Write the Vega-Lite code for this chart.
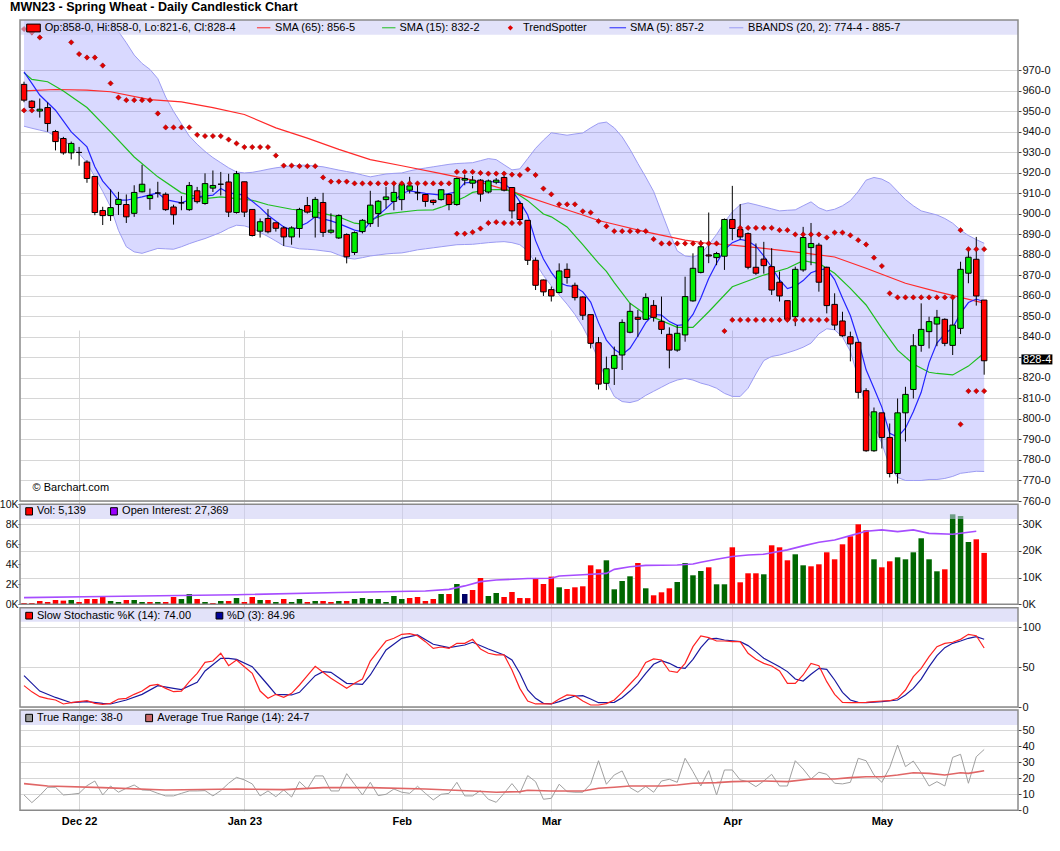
{
  "$schema": "https://vega.github.io/schema/vega-lite/v6.json",
  "autosize": "none",
  "width": 998,
  "height": 791,
  "padding": {"left": 20, "top": 20, "right": 42, "bottom": 40},
  "background": "white",
  "title": {"text": "MWN23 - Spring Wheat - Daily Candlestick Chart", "anchor": "start", "frame": "group", "dx": -10, "dy": 11, "offset": 7, "baseline": "alphabetic", "fontSize": 12.5, "fontWeight": "bold", "color": "#000000"},
  "config": {"font": "Liberation Sans", "view": {"stroke": null}, "scale": {"continuousPadding": 0}},
  "datasets": {
    "candles": [
      {"i":0,"o":963.2,"h":964.5,"lo":954.5,"c":955.5,"v":133,"vd":"d"},
      {"i":1,"o":955.0,"h":955.5,"lo":951.0,"c":951.9,"v":133,"vd":"d"},
      {"i":2,"o":950.2,"h":956.3,"lo":947.0,"c":951.1,"v":333,"vd":"d"},
      {"i":3,"o":951.9,"h":954.4,"lo":940.1,"c":944.1,"v":233,"vd":"d"},
      {"i":4,"o":940.2,"h":941.0,"lo":931.0,"c":935.3,"v":433,"vd":"d"},
      {"i":5,"o":936.8,"h":937.6,"lo":928.9,"c":929.8,"v":367,"vd":"d"},
      {"i":6,"o":929.8,"h":935.3,"lo":926.6,"c":934.4,"v":433,"vd":"u"},
      {"i":7,"o":930.0,"h":932.7,"lo":923.5,"c":930.0,"v":233,"vd":"d"},
      {"i":8,"o":925.3,"h":926.2,"lo":915.2,"c":917.3,"v":533,"vd":"d"},
      {"i":9,"o":918.3,"h":918.3,"lo":899.4,"c":900.7,"v":533,"vd":"d"},
      {"i":10,"o":901.7,"h":903.5,"lo":894.6,"c":899.2,"v":733,"vd":"d"},
      {"i":11,"o":899.2,"h":912.0,"lo":896.6,"c":903.1,"v":333,"vd":"u"},
      {"i":12,"o":904.6,"h":910.8,"lo":899.5,"c":907.1,"v":233,"vd":"u"},
      {"i":13,"o":904.6,"h":909.5,"lo":895.6,"c":898.6,"v":433,"vd":"d"},
      {"i":14,"o":900.3,"h":914.0,"lo":898.6,"c":910.5,"v":433,"vd":"u"},
      {"i":15,"o":910.8,"h":924.0,"lo":910.5,"c":914.5,"v":233,"vd":"u"},
      {"i":16,"o":907.5,"h":912.4,"lo":902.0,"c":909.0,"v":233,"vd":"d"},
      {"i":17,"o":910.2,"h":915.7,"lo":908.0,"c":910.2,"v":233,"vd":"u"},
      {"i":18,"o":909.6,"h":910.5,"lo":901.5,"c":902.1,"v":233,"vd":"d"},
      {"i":19,"o":903.4,"h":904.5,"lo":894.8,"c":899.6,"v":733,"vd":"d"},
      {"i":20,"o":905.4,"h":908.7,"lo":901.8,"c":905.4,"v":533,"vd":"u"},
      {"i":21,"o":902.1,"h":915.6,"lo":901.5,"c":913.9,"v":1033,"vd":"u"},
      {"i":22,"o":911.3,"h":913.2,"lo":905.1,"c":906.0,"v":533,"vd":"d"},
      {"i":23,"o":905.1,"h":919.8,"lo":904.5,"c":914.8,"v":233,"vd":"u"},
      {"i":24,"o":912.6,"h":921.2,"lo":910.7,"c":913.9,"v":133,"vd":"d"},
      {"i":25,"o":914.5,"h":920.5,"lo":909.0,"c":914.5,"v":333,"vd":"u"},
      {"i":26,"o":915.6,"h":919.6,"lo":898.5,"c":900.9,"v":333,"vd":"d"},
      {"i":27,"o":900.7,"h":921.0,"lo":900.2,"c":919.7,"v":633,"vd":"u"},
      {"i":28,"o":915.7,"h":915.7,"lo":898.5,"c":900.9,"v":233,"vd":"d"},
      {"i":29,"o":902.2,"h":902.2,"lo":889.0,"c":889.5,"v":733,"vd":"d"},
      {"i":30,"o":891.6,"h":897.8,"lo":888.5,"c":896.2,"v":433,"vd":"u"},
      {"i":31,"o":897.8,"h":902.4,"lo":890.5,"c":891.3,"v":433,"vd":"d"},
      {"i":32,"o":895.7,"h":895.7,"lo":891.4,"c":893.0,"v":233,"vd":"u"},
      {"i":33,"o":893.2,"h":894.0,"lo":884.4,"c":888.8,"v":533,"vd":"d"},
      {"i":34,"o":888.8,"h":894.0,"lo":885.0,"c":893.2,"v":233,"vd":"u"},
      {"i":35,"o":892.9,"h":903.0,"lo":888.5,"c":902.2,"v":533,"vd":"u"},
      {"i":36,"o":904.1,"h":908.3,"lo":900.2,"c":900.9,"v":233,"vd":"d"},
      {"i":37,"o":898.4,"h":908.3,"lo":888.5,"c":907.1,"v":333,"vd":"u"},
      {"i":38,"o":905.6,"h":910.3,"lo":888.8,"c":891.0,"v":333,"vd":"d"},
      {"i":39,"o":891.1,"h":900.3,"lo":890.4,"c":892.1,"v":233,"vd":"d"},
      {"i":40,"o":888.3,"h":899.8,"lo":887.8,"c":899.2,"v":333,"vd":"u"},
      {"i":41,"o":890.0,"h":890.5,"lo":875.9,"c":879.1,"v":333,"vd":"d"},
      {"i":42,"o":881.2,"h":891.5,"lo":880.0,"c":890.9,"v":533,"vd":"u"},
      {"i":43,"o":891.4,"h":897.5,"lo":890.5,"c":896.9,"v":633,"vd":"u"},
      {"i":44,"o":895.3,"h":911.3,"lo":893.7,"c":904.3,"v":533,"vd":"u"},
      {"i":45,"o":900.2,"h":906.8,"lo":893.7,"c":906.2,"v":533,"vd":"u"},
      {"i":46,"o":907.0,"h":913.2,"lo":902.6,"c":908.3,"v":233,"vd":"u"},
      {"i":47,"o":906.1,"h":915.7,"lo":901.8,"c":910.5,"v":833,"vd":"u"},
      {"i":48,"o":907.0,"h":915.7,"lo":901.8,"c":914.3,"v":533,"vd":"u"},
      {"i":49,"o":911.6,"h":918.1,"lo":910.0,"c":913.7,"v":633,"vd":"d"},
      {"i":50,"o":910.3,"h":915.7,"lo":906.7,"c":910.3,"v":733,"vd":"d"},
      {"i":51,"o":909.5,"h":909.8,"lo":903.5,"c":906.1,"v":333,"vd":"d"},
      {"i":52,"o":906.7,"h":907.0,"lo":904.3,"c":905.6,"v":533,"vd":"d"},
      {"i":53,"o":907.0,"h":912.0,"lo":906.5,"c":911.8,"v":1033,"vd":"u"},
      {"i":54,"o":909.5,"h":910.0,"lo":901.8,"c":904.6,"v":1033,"vd":"d"},
      {"i":55,"o":904.6,"h":917.8,"lo":904.0,"c":917.3,"v":2033,"vd":"u"},
      {"i":56,"o":916.5,"h":919.0,"lo":914.0,"c":917.3,"v":1033,"vd":"n"},
      {"i":57,"o":915.0,"h":918.5,"lo":912.5,"c":916.5,"v":1433,"vd":"d"},
      {"i":58,"o":916.5,"h":917.0,"lo":906.0,"c":909.7,"v":2633,"vd":"d"},
      {"i":59,"o":910.7,"h":916.8,"lo":910.0,"c":916.1,"v":833,"vd":"u"},
      {"i":60,"o":915.5,"h":917.5,"lo":914.5,"c":916.5,"v":1133,"vd":"u"},
      {"i":61,"o":917.8,"h":918.5,"lo":911.0,"c":911.6,"v":733,"vd":"d"},
      {"i":62,"o":912.9,"h":912.9,"lo":897.8,"c":901.5,"v":1233,"vd":"d"},
      {"i":63,"o":905.1,"h":906.0,"lo":896.5,"c":897.3,"v":633,"vd":"d"},
      {"i":64,"o":896.9,"h":897.0,"lo":875.1,"c":877.4,"v":620,"vd":"d"},
      {"i":65,"o":877.4,"h":878.8,"lo":862.9,"c":865.2,"v":2600,"vd":"d"},
      {"i":66,"o":867.8,"h":868.0,"lo":860.0,"c":862.0,"v":2033,"vd":"d"},
      {"i":67,"o":863.1,"h":864.6,"lo":857.3,"c":860.0,"v":2767,"vd":"d"},
      {"i":68,"o":861.7,"h":875.9,"lo":861.2,"c":872.2,"v":1700,"vd":"u"},
      {"i":69,"o":873.0,"h":875.9,"lo":866.0,"c":869.0,"v":1533,"vd":"d"},
      {"i":70,"o":865.2,"h":866.5,"lo":857.8,"c":859.2,"v":1700,"vd":"d"},
      {"i":71,"o":859.5,"h":859.8,"lo":848.3,"c":850.6,"v":1800,"vd":"d"},
      {"i":72,"o":850.9,"h":850.9,"lo":834.4,"c":836.9,"v":3900,"vd":"d"},
      {"i":73,"o":837.2,"h":840.0,"lo":814.4,"c":817.0,"v":3500,"vd":"d"},
      {"i":74,"o":817.4,"h":830.4,"lo":814.1,"c":824.5,"v":4400,"vd":"u"},
      {"i":75,"o":824.7,"h":835.3,"lo":816.6,"c":831.0,"v":1500,"vd":"u"},
      {"i":76,"o":831.2,"h":848.6,"lo":823.9,"c":847.1,"v":2333,"vd":"u"},
      {"i":77,"o":842.3,"h":856.4,"lo":841.8,"c":852.5,"v":2800,"vd":"u"},
      {"i":78,"o":849.6,"h":853.2,"lo":840.1,"c":848.6,"v":4133,"vd":"d"},
      {"i":79,"o":848.6,"h":861.3,"lo":848.3,"c":859.2,"v":1600,"vd":"u"},
      {"i":80,"o":855.4,"h":858.0,"lo":847.5,"c":849.6,"v":900,"vd":"d"},
      {"i":81,"o":847.6,"h":859.7,"lo":841.4,"c":843.7,"v":1200,"vd":"d"},
      {"i":82,"o":841.3,"h":844.7,"lo":824.7,"c":833.6,"v":1600,"vd":"d"},
      {"i":83,"o":833.6,"h":845.8,"lo":832.8,"c":841.8,"v":2233,"vd":"u"},
      {"i":84,"o":841.0,"h":869.4,"lo":837.7,"c":859.7,"v":4133,"vd":"u"},
      {"i":85,"o":857.6,"h":880.8,"lo":857.2,"c":873.5,"v":2900,"vd":"u"},
      {"i":86,"o":871.5,"h":887.2,"lo":871.0,"c":884.0,"v":3333,"vd":"u"},
      {"i":87,"o":880.0,"h":900.7,"lo":876.0,"c":879.5,"v":3700,"vd":"d"},
      {"i":88,"o":878.7,"h":881.5,"lo":875.0,"c":880.7,"v":2000,"vd":"u"},
      {"i":89,"o":879.4,"h":897.8,"lo":872.7,"c":897.3,"v":2000,"vd":"u"},
      {"i":90,"o":897.3,"h":913.7,"lo":887.2,"c":892.9,"v":5700,"vd":"d"},
      {"i":91,"o":892.4,"h":904.8,"lo":887.5,"c":888.8,"v":2200,"vd":"d"},
      {"i":92,"o":890.4,"h":891.0,"lo":873.0,"c":874.0,"v":3100,"vd":"d"},
      {"i":93,"o":874.0,"h":885.6,"lo":870.3,"c":871.1,"v":3100,"vd":"d"},
      {"i":94,"o":878.0,"h":886.4,"lo":870.9,"c":874.8,"v":3000,"vd":"u"},
      {"i":95,"o":874.3,"h":883.3,"lo":860.5,"c":862.9,"v":5900,"vd":"d"},
      {"i":96,"o":866.7,"h":871.9,"lo":857.3,"c":860.0,"v":5700,"vd":"d"},
      {"i":97,"o":857.7,"h":857.7,"lo":847.5,"c":848.6,"v":4400,"vd":"d"},
      {"i":98,"o":849.9,"h":874.3,"lo":845.3,"c":873.0,"v":5000,"vd":"u"},
      {"i":99,"o":872.7,"h":893.7,"lo":871.8,"c":888.5,"v":3900,"vd":"u"},
      {"i":100,"o":883.6,"h":895.6,"lo":875.0,"c":885.6,"v":3800,"vd":"d"},
      {"i":101,"o":884.8,"h":885.9,"lo":862.1,"c":866.7,"v":4000,"vd":"d"},
      {"i":102,"o":874.0,"h":874.3,"lo":851.5,"c":855.3,"v":5200,"vd":"d"},
      {"i":103,"o":855.9,"h":861.3,"lo":843.4,"c":845.8,"v":4500,"vd":"d"},
      {"i":104,"o":847.8,"h":852.3,"lo":840.1,"c":840.6,"v":6000,"vd":"d"},
      {"i":105,"o":840.1,"h":842.6,"lo":828.1,"c":836.6,"v":6800,"vd":"d"},
      {"i":106,"o":837.4,"h":837.4,"lo":810.0,"c":813.0,"v":8000,"vd":"d"},
      {"i":107,"o":813.8,"h":815.0,"lo":784.0,"c":784.5,"v":7400,"vd":"d"},
      {"i":108,"o":784.5,"h":805.6,"lo":784.0,"c":803.5,"v":4500,"vd":"u"},
      {"i":109,"o":803.0,"h":803.0,"lo":785.6,"c":791.0,"v":3700,"vd":"d"},
      {"i":110,"o":791.0,"h":797.8,"lo":771.5,"c":773.4,"v":4300,"vd":"d"},
      {"i":111,"o":773.4,"h":810.0,"lo":768.5,"c":803.0,"v":4700,"vd":"u"},
      {"i":112,"o":803.0,"h":815.7,"lo":789.0,"c":812.0,"v":4500,"vd":"u"},
      {"i":113,"o":814.4,"h":841.4,"lo":810.0,"c":835.7,"v":5200,"vd":"u"},
      {"i":114,"o":835.9,"h":856.4,"lo":832.8,"c":843.7,"v":6600,"vd":"u"},
      {"i":115,"o":842.6,"h":849.9,"lo":834.4,"c":847.5,"v":4500,"vd":"u"},
      {"i":116,"o":846.3,"h":853.2,"lo":835.5,"c":849.6,"v":3300,"vd":"u"},
      {"i":117,"o":848.6,"h":849.1,"lo":835.5,"c":836.9,"v":3500,"vd":"d"},
      {"i":118,"o":835.9,"h":860.5,"lo":831.2,"c":845.8,"v":9000,"vd":"u"},
      {"i":119,"o":844.2,"h":876.7,"lo":841.4,"c":873.0,"v":8833,"vd":"u"},
      {"i":120,"o":871.1,"h":883.3,"lo":866.2,"c":878.9,"v":6233,"vd":"u"},
      {"i":121,"o":877.9,"h":888.8,"lo":855.3,"c":860.0,"v":6500,"vd":"d"},
      {"i":122,"o":858.0,"h":858.0,"lo":821.6,"c":828.4,"v":5139,"vd":"d"}
    ],
    "bb": [
      {"i":0,"u":996,"l":942.8},{"i":1,"u":996,"l":941.8},{"i":2,"u":996,"l":940.9},{"i":3,"u":996,"l":940},
      {"i":4,"u":996,"l":938},{"i":5,"u":996,"l":936},{"i":6,"u":996,"l":933},{"i":7,"u":996,"l":929.5},
      {"i":8,"u":996,"l":925},{"i":9,"u":996,"l":918},{"i":10,"u":996,"l":911},{"i":11,"u":995,"l":903.5},
      {"i":12,"u":989,"l":892},{"i":13,"u":983.5,"l":884},{"i":14,"u":977.5,"l":881.5},{"i":15,"u":973.4,"l":880.8},
      {"i":16,"u":970.5,"l":882},{"i":17,"u":966,"l":883.2},{"i":18,"u":957,"l":883},{"i":19,"u":950,"l":882.8},
      {"i":20,"u":944,"l":884},{"i":21,"u":938,"l":885.5},{"i":22,"u":934,"l":886.8},{"i":23,"u":930.5,"l":888},
      {"i":24,"u":927.5,"l":889.5},{"i":25,"u":925,"l":891},{"i":26,"u":922.5,"l":893},{"i":27,"u":920.5,"l":894.5},
      {"i":28,"u":920,"l":894.2},{"i":29,"u":920.3,"l":893},{"i":30,"u":921,"l":891},{"i":31,"u":921.8,"l":889},
      {"i":32,"u":922.5,"l":886.8},{"i":33,"u":923,"l":884.5},{"i":34,"u":923.5,"l":883.8},{"i":35,"u":923.8,"l":883},
      {"i":36,"u":923.8,"l":882.8},{"i":37,"u":923.4,"l":882.5},{"i":38,"u":923,"l":882},{"i":39,"u":922.2,"l":881.5},
      {"i":40,"u":921.4,"l":880},{"i":41,"u":920.7,"l":878.5},{"i":42,"u":920,"l":878},{"i":43,"u":919,"l":878.7},
      {"i":44,"u":918.1,"l":879.5},{"i":45,"u":918.8,"l":880},{"i":46,"u":919.5,"l":880.5},{"i":47,"u":919.8,"l":880.8},
      {"i":48,"u":920,"l":881},{"i":49,"u":921,"l":881.7},{"i":50,"u":921.8,"l":882.5},{"i":51,"u":922.4,"l":883},
      {"i":52,"u":923,"l":883.5},{"i":53,"u":923.6,"l":884},{"i":54,"u":924.2,"l":884.5},{"i":55,"u":924.6,"l":885},
      {"i":56,"u":924.8,"l":885.1},{"i":57,"u":925,"l":885.2},{"i":58,"u":926,"l":885.6},{"i":59,"u":927,"l":886},
      {"i":60,"u":926.5,"l":886.3},{"i":61,"u":924,"l":886.5},{"i":62,"u":921.5,"l":886},{"i":63,"u":922,"l":885},
      {"i":64,"u":927,"l":882},{"i":65,"u":932,"l":876},{"i":66,"u":936,"l":870},{"i":67,"u":939.6,"l":865},
      {"i":68,"u":939,"l":860.5},{"i":69,"u":938.4,"l":856},{"i":70,"u":939,"l":851},{"i":71,"u":939.5,"l":845},
      {"i":72,"u":942,"l":837.5},{"i":73,"u":944.2,"l":829},{"i":74,"u":944.8,"l":818.5},{"i":75,"u":942,"l":811},
      {"i":76,"u":937.6,"l":808.5},{"i":77,"u":931.5,"l":808},{"i":78,"u":924.6,"l":809},{"i":79,"u":918,"l":811.5},
      {"i":80,"u":911,"l":813.5},{"i":81,"u":901,"l":815.5},{"i":82,"u":891,"l":817.5},{"i":83,"u":882,"l":819},
      {"i":84,"u":879.5,"l":819.8},{"i":85,"u":879,"l":819},{"i":86,"u":880.5,"l":817.5},{"i":87,"u":885,"l":816.5},
      {"i":88,"u":890,"l":815},{"i":89,"u":896,"l":812.5},{"i":90,"u":901,"l":811},{"i":91,"u":904.5,"l":811},
      {"i":92,"u":905.4,"l":815},{"i":93,"u":904.5,"l":822},{"i":94,"u":903.5,"l":828.5},{"i":95,"u":902.5,"l":830.5},
      {"i":96,"u":901.5,"l":831.2},{"i":97,"u":901.8,"l":832.3},{"i":98,"u":902,"l":833.5},{"i":99,"u":904,"l":835},
      {"i":100,"u":905.9,"l":837},{"i":101,"u":903,"l":841.5},{"i":102,"u":901.5,"l":844},{"i":103,"u":902.3,"l":843.5},
      {"i":104,"u":904,"l":840},{"i":105,"u":906.5,"l":833},{"i":106,"u":911,"l":820},{"i":107,"u":916.5,"l":805},
      {"i":108,"u":917.8,"l":798},{"i":109,"u":917,"l":788},{"i":110,"u":915,"l":777},{"i":111,"u":911,"l":771.5},
      {"i":112,"u":907,"l":770},{"i":113,"u":904,"l":770},{"i":114,"u":901.5,"l":770},{"i":115,"u":900.5,"l":770.5},
      {"i":116,"u":899.5,"l":770.5},{"i":117,"u":897.8,"l":771},{"i":118,"u":895.5,"l":772},{"i":119,"u":892.1,"l":773.5},
      {"i":120,"u":889.5,"l":774},{"i":121,"u":887.5,"l":774.5},{"i":122,"u":885.7,"l":774.4}
    ],
    "sma65": [
      {"i":0,"v":960},{"i":4,"v":960.7},{"i":8,"v":960.4},{"i":11,"v":959.6},{"i":16,"v":955.8},{"i":20,"v":954.7},
      {"i":24,"v":951.9},{"i":28,"v":948.5},{"i":32,"v":942},{"i":36,"v":937},{"i":40,"v":931.5},{"i":44,"v":926.5},
      {"i":48,"v":923.5},{"i":53,"v":919.7},{"i":57,"v":916.5},{"i":62,"v":911},{"i":64,"v":908.3},{"i":67,"v":904.5},
      {"i":71,"v":899.5},{"i":73,"v":896.8},{"i":75,"v":895},{"i":79,"v":891.3},{"i":84,"v":887.2},{"i":87,"v":885.6},
      {"i":90,"v":884.8},{"i":94,"v":883.2},{"i":99,"v":881},{"i":103,"v":879},{"i":107,"v":873.5},{"i":112,"v":866.2},
      {"i":116,"v":862.1},{"i":122,"v":856.5}
    ],
    "sma15": [
      {"i":0,"v":968.9},{"i":1,"v":965.6},{"i":3,"v":964.5},{"i":5,"v":960},{"i":8,"v":951.9},{"i":11,"v":940},
      {"i":14,"v":927.8},{"i":17,"v":918.1},{"i":20,"v":910.3},{"i":23,"v":907.5},{"i":25,"v":908.3},{"i":27,"v":907.5},
      {"i":29,"v":906.7},{"i":31,"v":904.5},{"i":34,"v":902.3},{"i":37,"v":901},{"i":40,"v":898.6},{"i":42,"v":895.5},
      {"i":43,"v":895},{"i":44,"v":897},{"i":46,"v":900},{"i":50,"v":901.8},{"i":52,"v":902},{"i":53,"v":903.3},
      {"i":54,"v":904.8},{"i":56,"v":908.3},{"i":57,"v":910.5},{"i":59,"v":911.8},{"i":61,"v":912},{"i":62,"v":911},
      {"i":63,"v":909},{"i":64,"v":906.5},{"i":66,"v":900},{"i":67,"v":898.6},{"i":69,"v":893.7},{"i":71,"v":885},
      {"i":73,"v":876},{"i":74,"v":872},{"i":75,"v":866.5},{"i":77,"v":856.4},{"i":79,"v":851},{"i":81,"v":848},
      {"i":83,"v":844.7},{"i":85,"v":844.7},{"i":87,"v":852.3},{"i":90,"v":864.5},{"i":94,"v":870.2},{"i":97,"v":873.5},
      {"i":99,"v":877.2},{"i":100,"v":876.5},{"i":101,"v":875.9},{"i":103,"v":871.1},{"i":105,"v":863.7},{"i":107,"v":855.6},
      {"i":109,"v":844.2},{"i":111,"v":833.6},{"i":113,"v":826.8},{"i":115,"v":822.8},{"i":116,"v":822.2},{"i":118,"v":821.5},
      {"i":120,"v":825.8},{"i":122,"v":832.2}
    ],
    "sma5": [
      {"i":0,"v":969.3},{"i":1,"v":963.7},{"i":2,"v":958},{"i":4,"v":950.6},{"i":6,"v":940},{"i":8,"v":932.7},
      {"i":9,"v":923},{"i":10,"v":916},{"i":11,"v":911.6},{"i":12,"v":906.7},{"i":13,"v":906.7},{"i":15,"v":908.3},
      {"i":17,"v":910.3},{"i":18,"v":907},{"i":20,"v":905.4},{"i":22,"v":908.3},{"i":24,"v":909.2},{"i":25,"v":912.4},
      {"i":26,"v":910.3},{"i":28,"v":909.2},{"i":30,"v":903.1},{"i":31,"v":899.4},{"i":33,"v":893.7},{"i":34,"v":892.1},
      {"i":36,"v":895.7},{"i":37,"v":898.6},{"i":39,"v":896.6},{"i":40,"v":895.3},{"i":42,"v":892.1},{"i":43,"v":891.3},
      {"i":44,"v":896.1},{"i":46,"v":902.6},{"i":48,"v":910},{"i":49,"v":911.3},{"i":51,"v":910},{"i":53,"v":909.2},
      {"i":55,"v":910.8},{"i":56,"v":915.2},{"i":58,"v":915.7},{"i":60,"v":915.7},{"i":61,"v":914.9},{"i":62,"v":911.6},
      {"i":63,"v":906},{"i":64,"v":899.5},{"i":65,"v":887},{"i":66,"v":878},{"i":67,"v":871.5},{"i":68,"v":866.5},
      {"i":69,"v":865},{"i":70,"v":864.5},{"i":71,"v":862},{"i":72,"v":857},{"i":73,"v":847},{"i":74,"v":838.5},
      {"i":75,"v":834},{"i":76,"v":831.5},{"i":77,"v":834.5},{"i":78,"v":840.5},{"i":79,"v":847},{"i":80,"v":851},
      {"i":81,"v":850.7},{"i":82,"v":847.5},{"i":83,"v":845.7},{"i":84,"v":846},{"i":85,"v":851},{"i":86,"v":859},
      {"i":87,"v":868.5},{"i":88,"v":876},{"i":89,"v":882.5},{"i":90,"v":886},{"i":91,"v":887.6},{"i":92,"v":886.8},
      {"i":93,"v":884.3},{"i":94,"v":879.5},{"i":95,"v":874},{"i":96,"v":867.8},{"i":97,"v":863.6},{"i":98,"v":864.8},
      {"i":99,"v":867.5},{"i":100,"v":871.3},{"i":101,"v":872.7},{"i":102,"v":873.2},{"i":103,"v":868},{"i":104,"v":859},
      {"i":105,"v":850.5},{"i":106,"v":838.4},{"i":107,"v":824},{"i":108,"v":815},{"i":109,"v":805.8},{"i":110,"v":793},
      {"i":111,"v":791.2},{"i":112,"v":795.5},{"i":113,"v":803.5},{"i":114,"v":813},{"i":115,"v":827.5},{"i":116,"v":837},
      {"i":117,"v":841.5},{"i":118,"v":844.5},{"i":119,"v":851.5},{"i":120,"v":856.8},{"i":121,"v":858.5},{"i":122,"v":857.2}
    ],
    "ts": [
      {"i":0,"v":990.2},{"i":0,"v":950.5},{"i":1,"v":988.5},{"i":1,"v":950.5},{"i":2,"v":986.1},
      {"i":6,"v":983.7},{"i":7,"v":978},{"i":8,"v":976.3},{"i":9,"v":976.3},{"i":10,"v":972.4},{"i":11,"v":963.7},
      {"i":12,"v":956.8},{"i":13,"v":955.5},{"i":14,"v":955.5},{"i":15,"v":955.5},{"i":16,"v":955.5},{"i":17,"v":949},
      {"i":18,"v":942.2},{"i":19,"v":942.2},{"i":20,"v":942.2},{"i":21,"v":942.2},{"i":22,"v":938.6},{"i":23,"v":938},
      {"i":24,"v":938},{"i":25,"v":938},{"i":26,"v":936.3},{"i":27,"v":934.4},{"i":28,"v":932.6},{"i":29,"v":932.6},
      {"i":30,"v":932.6},{"i":31,"v":932.6},{"i":32,"v":928.5},{"i":33,"v":923.6},{"i":34,"v":923.6},{"i":35,"v":923.3},
      {"i":36,"v":923.3},{"i":37,"v":923.3},{"i":38,"v":917.8},{"i":39,"v":915.8},{"i":40,"v":915.8},{"i":41,"v":915.8},
      {"i":42,"v":914.9},{"i":43,"v":914.9},{"i":44,"v":914.9},{"i":45,"v":914.9},{"i":46,"v":914.9},{"i":47,"v":914.9},
      {"i":48,"v":914.9},{"i":49,"v":914.9},{"i":50,"v":914.9},{"i":51,"v":914.9},{"i":52,"v":914.9},{"i":53,"v":914.9},
      {"i":54,"v":914.9},
      {"i":55,"v":920.5},{"i":55,"v":890.4},{"i":56,"v":920.5},{"i":56,"v":890.4},{"i":57,"v":920.5},{"i":57,"v":891.1},
      {"i":58,"v":920},{"i":58,"v":892.9},{"i":59,"v":919.7},{"i":59,"v":895.6},{"i":60,"v":919.7},{"i":60,"v":896},
      {"i":61,"v":919.7},{"i":61,"v":895.6},{"i":62,"v":919.2},{"i":62,"v":895.6},{"i":63,"v":919},{"i":63,"v":895.6},
      {"i":64,"v":921.7},{"i":65,"v":919},{"i":66,"v":912.4},{"i":67,"v":909.6},{"i":68,"v":904.7},{"i":69,"v":904.7},
      {"i":70,"v":904.7},{"i":71,"v":901.3},{"i":72,"v":900.7},{"i":73,"v":896.5},{"i":74,"v":894},{"i":75,"v":891.6},
      {"i":76,"v":891.6},{"i":77,"v":891.6},{"i":78,"v":891.6},{"i":79,"v":891.6},{"i":80,"v":887.7},{"i":81,"v":885.6},
      {"i":82,"v":885.6},{"i":83,"v":885.6},{"i":84,"v":885.6},{"i":85,"v":885.6},{"i":86,"v":885.6},{"i":87,"v":885.6},
      {"i":88,"v":885.6},{"i":89,"v":842.9},{"i":90,"v":848.3},
      {"i":91,"v":893.2},{"i":91,"v":848.3},{"i":92,"v":893.2},{"i":92,"v":848.3},{"i":93,"v":893.2},{"i":93,"v":848.3},
      {"i":94,"v":893.2},{"i":94,"v":848.3},{"i":95,"v":893.2},{"i":95,"v":848.3},{"i":96,"v":892.1},{"i":96,"v":848.3},
      {"i":97,"v":892.1},{"i":97,"v":848.3},{"i":98,"v":890},{"i":98,"v":848.3},{"i":99,"v":890},{"i":99,"v":848.3},
      {"i":100,"v":890},{"i":100,"v":848.3},{"i":101,"v":890},{"i":101,"v":848.3},{"i":102,"v":888.5},{"i":102,"v":848.3},
      {"i":103,"v":890.9},{"i":104,"v":890.9},{"i":105,"v":889.6},{"i":106,"v":887.2},{"i":107,"v":885.1},{"i":108,"v":878.7},
      {"i":109,"v":874.6},{"i":110,"v":861.3},{"i":111,"v":859.3},{"i":112,"v":859.3},{"i":113,"v":859.3},{"i":114,"v":859.3},
      {"i":115,"v":859.3},{"i":116,"v":859.3},{"i":117,"v":859.3},{"i":118,"v":859.3},
      {"i":119,"v":892.1},{"i":119,"v":797.4},{"i":120,"v":882.8},{"i":120,"v":813.6},{"i":121,"v":882.8},{"i":121,"v":813.6},
      {"i":122,"v":882.8},{"i":122,"v":813.6}
    ],
    "oi": [
      {"i":0,"v":2500},{"i":10,"v":2900},{"i":27,"v":3600},{"i":40,"v":4400},{"i":51,"v":5000},{"i":54,"v":5600},
      {"i":56,"v":6900},{"i":58,"v":8500},{"i":60,"v":9100},{"i":64,"v":9700},{"i":67,"v":9750},{"i":68,"v":10600},
      {"i":71,"v":11100},{"i":74,"v":11600},{"i":75,"v":13100},{"i":77,"v":14100},{"i":79,"v":14600},{"i":83,"v":14750},
      {"i":85,"v":15100},{"i":86,"v":15750},{"i":88,"v":16900},{"i":90,"v":17900},{"i":92,"v":18500},{"i":94,"v":18750},
      {"i":97,"v":20400},{"i":99,"v":21900},{"i":101,"v":23250},{"i":103,"v":24100},{"i":105,"v":25750},{"i":107,"v":27400},
      {"i":109,"v":27900},{"i":111,"v":27250},{"i":113,"v":27900},{"i":115,"v":26600},{"i":118,"v":26250},{"i":120,"v":27000},
      {"i":121,"v":27369}
    ],
    "stk": [
      {"i":0,"v":26.8},{"i":1,"v":19},{"i":2,"v":13},{"i":3,"v":10.5},{"i":4,"v":8.8},{"i":5,"v":3.8},{"i":6,"v":5.4},
      {"i":7,"v":6.7},{"i":8,"v":8},{"i":9,"v":4.6},{"i":10,"v":3.3},{"i":11,"v":4.6},{"i":12,"v":10},{"i":13,"v":10.9},
      {"i":14,"v":15.9},{"i":15,"v":20},{"i":16,"v":26.8},{"i":17,"v":28.5},{"i":18,"v":23.4},{"i":19,"v":19.2},{"i":20,"v":20},
      {"i":21,"v":31.8},{"i":22,"v":42.3},{"i":23,"v":56},{"i":24,"v":57.7},{"i":25,"v":67.4},{"i":26,"v":51.9},{"i":27,"v":59},
      {"i":28,"v":50.6},{"i":29,"v":42.3},{"i":30,"v":20},{"i":31,"v":10.9},{"i":32,"v":15.9},{"i":33,"v":12.1},{"i":34,"v":17.2},
      {"i":35,"v":27.6},{"i":36,"v":39.3},{"i":37,"v":51},{"i":38,"v":43.5},{"i":39,"v":36},{"i":40,"v":29.7},{"i":41,"v":23.4},
      {"i":42,"v":29.7},{"i":43,"v":35.1},{"i":44,"v":57.7},{"i":45,"v":70.3},{"i":46,"v":82.8},{"i":47,"v":86.2},{"i":48,"v":91.2},
      {"i":49,"v":92},{"i":50,"v":89.5},{"i":51,"v":82},{"i":52,"v":73.6},{"i":53,"v":75.3},{"i":54,"v":73.6},{"i":55,"v":79.9},
      {"i":56,"v":79.9},{"i":57,"v":84.9},{"i":58,"v":72.8},{"i":59,"v":67.4},{"i":60,"v":65.3},{"i":61,"v":65.3},{"i":62,"v":46.4},
      {"i":63,"v":23.4},{"i":64,"v":7.5},{"i":65,"v":3.8},{"i":66,"v":3.8},{"i":67,"v":3.8},{"i":68,"v":10},{"i":69,"v":15.1},
      {"i":70,"v":14.2},{"i":71,"v":7.5},{"i":72,"v":2.5},{"i":73,"v":2.5},{"i":74,"v":4.2},{"i":75,"v":8.8},{"i":76,"v":18.4},
      {"i":77,"v":28.9},{"i":78,"v":39.3},{"i":79,"v":56},{"i":80,"v":60.3},{"i":81,"v":59},{"i":82,"v":45.2},{"i":83,"v":43.5},
      {"i":84,"v":54.8},{"i":85,"v":75.7},{"i":86,"v":89.1},{"i":87,"v":87},{"i":88,"v":82.8},{"i":89,"v":82.8},{"i":90,"v":82},
      {"i":91,"v":82},{"i":92,"v":67.4},{"i":93,"v":59.8},{"i":94,"v":54.8},{"i":95,"v":51.5},{"i":96,"v":45.2},{"i":97,"v":29.7},
      {"i":98,"v":29.7},{"i":99,"v":40.2},{"i":100,"v":54.8},{"i":101,"v":51.9},{"i":102,"v":31.8},{"i":103,"v":15.9},
      {"i":104,"v":5.9},{"i":105,"v":5.4},{"i":106,"v":5.4},{"i":107,"v":5.9},{"i":108,"v":6.7},{"i":109,"v":7.5},{"i":110,"v":7.9},
      {"i":111,"v":10.9},{"i":112,"v":21.3},{"i":113,"v":38.1},{"i":114,"v":48.5},{"i":115,"v":63.2},{"i":116,"v":75.7},
      {"i":117,"v":79.9},{"i":118,"v":81.2},{"i":119,"v":84.9},{"i":120,"v":91.2},{"i":121,"v":89.5},{"i":122,"v":74}
    ],
    "std": [
      {"i":0,"v":39.3},{"i":2,"v":20},{"i":4,"v":12},{"i":6,"v":5.4},{"i":8,"v":6.7},{"i":10,"v":4.6},{"i":11,"v":3.8},
      {"i":13,"v":8.8},{"i":15,"v":15.9},{"i":17,"v":26.8},{"i":19,"v":23.4},{"i":20,"v":21.8},{"i":22,"v":31},{"i":23,"v":45.2},
      {"i":25,"v":61.1},{"i":26,"v":61},{"i":27,"v":59.8},{"i":29,"v":50.6},{"i":31,"v":27.6},{"i":32,"v":15.9},{"i":34,"v":15.1},
      {"i":35,"v":18.4},{"i":37,"v":39.3},{"i":38,"v":44.4},{"i":39,"v":43.5},{"i":41,"v":29.7},{"i":43,"v":28.5},{"i":44,"v":40.2},
      {"i":46,"v":71.5},{"i":48,"v":86.2},{"i":50,"v":90.4},{"i":52,"v":78.7},{"i":54,"v":74.5},{"i":56,"v":77.8},{"i":57,"v":81.2},
      {"i":59,"v":72.8},{"i":61,"v":65.3},{"i":62,"v":59},{"i":63,"v":42.3},{"i":64,"v":21.3},{"i":65,"v":10.9},{"i":66,"v":4.6},
      {"i":67,"v":3.8},{"i":68,"v":6.7},{"i":70,"v":13.8},{"i":71,"v":14.2},{"i":72,"v":10},{"i":73,"v":5.4},{"i":75,"v":5.9},
      {"i":76,"v":11.7},{"i":77,"v":20},{"i":78,"v":29.7},{"i":79,"v":42.3},{"i":80,"v":53.6},{"i":81,"v":58.2},{"i":82,"v":54.8},
      {"i":83,"v":49.8},{"i":84,"v":48.5},{"i":85,"v":59.8},{"i":86,"v":74.5},{"i":87,"v":85.4},{"i":88,"v":86.2},{"i":89,"v":84.1},
      {"i":91,"v":82},{"i":92,"v":77},{"i":93,"v":69.5},{"i":94,"v":61.1},{"i":96,"v":50.6},{"i":97,"v":44.4},{"i":98,"v":35.1},
      {"i":99,"v":32.6},{"i":100,"v":41},{"i":101,"v":48.5},{"i":102,"v":47.3},{"i":103,"v":33.9},{"i":104,"v":18.4},{"i":105,"v":8.8},
      {"i":106,"v":5.9},{"i":107,"v":5.4},{"i":109,"v":6.7},{"i":111,"v":8.8},{"i":112,"v":15.1},{"i":113,"v":23.4},{"i":114,"v":35.1},
      {"i":115,"v":50.6},{"i":116,"v":64.4},{"i":117,"v":74.5},{"i":118,"v":79.9},{"i":119,"v":82.8},{"i":120,"v":86.2},
      {"i":121,"v":88.3},{"i":122,"v":84.96}
    ],
    "tr": [
      {"i":0,"v":9.6},{"i":1,"v":4.8},{"i":2,"v":9.2},{"i":3,"v":14.4},{"i":4,"v":14.4},{"i":5,"v":9.6},{"i":6,"v":10},
      {"i":7,"v":10.6},{"i":8,"v":15.4},{"i":9,"v":18.3},{"i":10,"v":9.6},{"i":11,"v":15.2},{"i":12,"v":11.3},{"i":13,"v":13.8},
      {"i":14,"v":15.8},{"i":15,"v":12.7},{"i":16,"v":12.5},{"i":17,"v":10.6},{"i":18,"v":9},{"i":19,"v":9},{"i":20,"v":10.6},
      {"i":21,"v":12.1},{"i":22,"v":12.1},{"i":23,"v":12.3},{"i":24,"v":9},{"i":25,"v":12.3},{"i":26,"v":16.9},{"i":27,"v":20.6},
      {"i":28,"v":19},{"i":29,"v":16.5},{"i":30,"v":9},{"i":31,"v":12.1},{"i":32,"v":8.5},{"i":33,"v":12.7},{"i":34,"v":8.3},
      {"i":35,"v":17.9},{"i":36,"v":13.3},{"i":37,"v":21.5},{"i":38,"v":21.5},{"i":39,"v":12.1},{"i":40,"v":12.1},{"i":41,"v":22.9},
      {"i":42,"v":16.3},{"i":43,"v":9.6},{"i":44,"v":17.5},{"i":45,"v":9.2},{"i":46,"v":10},{"i":47,"v":13.3},{"i":48,"v":11.3},
      {"i":49,"v":10.6},{"i":50,"v":15},{"i":51,"v":10.6},{"i":52,"v":6.5},{"i":53,"v":10},{"i":54,"v":10.6},{"i":55,"v":17.5},
      {"i":56,"v":9},{"i":57,"v":9},{"i":58,"v":12.3},{"i":59,"v":6.9},{"i":60,"v":5},{"i":61,"v":10.6},{"i":62,"v":16.7},
      {"i":63,"v":10.6},{"i":64,"v":21.7},{"i":65,"v":17.9},{"i":66,"v":6.9},{"i":67,"v":7.5},{"i":68,"v":16.3},{"i":69,"v":11.7},
      {"i":70,"v":11.3},{"i":71,"v":11.3},{"i":72,"v":16.5},{"i":73,"v":31},{"i":74,"v":16.3},{"i":75,"v":22.1},{"i":76,"v":24.6},
      {"i":77,"v":14.2},{"i":78,"v":11.3},{"i":79,"v":15},{"i":80,"v":11.3},{"i":81,"v":18.3},{"i":82,"v":19.4},{"i":83,"v":17.5},
      {"i":84,"v":32.5},{"i":85,"v":24.2},{"i":86,"v":15.2},{"i":87,"v":24.8},{"i":88,"v":9.6},{"i":89,"v":25.2},{"i":90,"v":25.2},
      {"i":91,"v":19},{"i":92,"v":17.9},{"i":93,"v":14.8},{"i":94,"v":18.3},{"i":95,"v":22.5},{"i":96,"v":15.2},{"i":97,"v":15.2},
      {"i":98,"v":31},{"i":99,"v":25.8},{"i":100,"v":19.6},{"i":101,"v":23.8},{"i":102,"v":22.5},{"i":103,"v":16.9},{"i":104,"v":16.5},
      {"i":105,"v":17.5},{"i":106,"v":32.5},{"i":107,"v":31},{"i":108,"v":22.1},{"i":109,"v":17.5},{"i":110,"v":26.7},{"i":111,"v":40.8},
      {"i":112,"v":27.3},{"i":113,"v":30.8},{"i":114,"v":23.5},{"i":115,"v":15.2},{"i":116,"v":17.9},{"i":117,"v":15.2},{"i":118,"v":33.1},
      {"i":119,"v":35},{"i":120,"v":16.9},{"i":121,"v":33.5},{"i":122,"v":38}
    ],
    "atr": [
      {"i":0,"v":16.7},{"i":3,"v":15.2},{"i":10,"v":14.2},{"i":18,"v":12.7},{"i":27,"v":13.3},{"i":33,"v":12.9},{"i":38,"v":14.2},
      {"i":44,"v":14.2},{"i":51,"v":13.3},{"i":57,"v":12.1},{"i":60,"v":11.3},{"i":63,"v":11.7},{"i":64,"v":12.5},{"i":67,"v":12.1},
      {"i":71,"v":12.1},{"i":73,"v":13.8},{"i":75,"v":14.4},{"i":77,"v":15.2},{"i":81,"v":15.2},{"i":83,"v":15.8},{"i":85,"v":16.9},
      {"i":88,"v":17.3},{"i":90,"v":17.9},{"i":94,"v":18.3},{"i":97,"v":17.9},{"i":100,"v":19.6},{"i":103,"v":19.6},{"i":105,"v":20.4},
      {"i":107,"v":21},{"i":109,"v":21},{"i":111,"v":22.1},{"i":113,"v":23.5},{"i":115,"v":23.1},{"i":117,"v":22.1},{"i":119,"v":23.5},
      {"i":120,"v":23.1},{"i":122,"v":24.7}
    ]
  },
  "data": {"values": [{}]},
  "layer": [
    {
      "layer": [
        {
          "data": {"name": "bb"},
          "mark": {"type": "area", "color": "#6666ff", "opacity": 0.25, "clip": true},
          "encoding": {
            "x": {"field": "i", "type": "quantitative", "scale": {"domain": [-0.51, 126.3], "nice": false, "zero": false, "padding": 0}},
            "y": {"field": "u", "type": "quantitative", "stack": null,
              "scale": {"domain": [760, 994.6], "range": [481, 0], "nice": false, "zero": false},
              "axis": {"orient": "right", "values": [760,770,780,790,800,810,820,830,840,850,860,870,880,890,900,910,920,930,940,950,960,970],
                "tickCount": 60, "labelExpr": "datum.value == 830 ? '' : datum.value + '-0'", "grid": true, "gridColor": "#d6d6d6", "domain": false,
                "tickSize": 3, "tickColor": "#444444", "labelPadding": 1, "labelFontSize": 11, "labelColor": "#111111",
                "labelFlush": false, "labelOverlap": false, "title": null}},
            "y2": {"field": "l"}
          }
        },
        {"data": {"name": "bb"}, "mark": {"type": "line", "color": "#9c9cf2", "strokeWidth": 1, "clip": true},
         "encoding": {"x": {"field": "i", "type": "quantitative"}, "y": {"field": "u", "type": "quantitative"}}},
        {"data": {"name": "bb"}, "mark": {"type": "line", "color": "#9c9cf2", "strokeWidth": 1},
         "encoding": {"x": {"field": "i", "type": "quantitative"}, "y": {"field": "l", "type": "quantitative"}}},
        {"data": {"name": "sma65"}, "mark": {"type": "line", "color": "#ff2a2a", "strokeWidth": 1.2},
         "encoding": {"x": {"field": "i", "type": "quantitative"}, "y": {"field": "v", "type": "quantitative"}}},
        {"data": {"name": "sma15"}, "mark": {"type": "line", "color": "#1fbf1f", "strokeWidth": 1.2},
         "encoding": {"x": {"field": "i", "type": "quantitative"}, "y": {"field": "v", "type": "quantitative"}}},
        {"data": {"name": "sma5"}, "mark": {"type": "line", "color": "#2424ff", "strokeWidth": 1.2},
         "encoding": {"x": {"field": "i", "type": "quantitative"}, "y": {"field": "v", "type": "quantitative"}}},
        {"data": {"name": "candles"}, "mark": {"type": "rule", "color": "#000000", "strokeWidth": 1},
         "encoding": {"x": {"field": "i", "type": "quantitative"}, "y": {"field": "lo", "type": "quantitative"}, "y2": {"field": "h"}}},
        {"data": {"name": "candles"}, "mark": {"type": "bar", "size": 5.5, "stroke": "#000000", "strokeWidth": 1},
         "encoding": {
           "x": {"field": "i", "type": "quantitative"},
           "y": {"field": "o", "type": "quantitative"}, "y2": {"field": "c"},
           "color": {"condition": {"test": "datum.c >= datum.o", "value": "#00ee00"}, "value": "#ff0000"}
         }},
        {"data": {"name": "ts"}, "mark": {"type": "point", "shape": "diamond", "filled": true, "size": 28, "color": "#e00000", "stroke": "#8b0000", "strokeWidth": 0.5, "opacity": 1},
         "encoding": {"x": {"field": "i", "type": "quantitative"}, "y": {"field": "v", "type": "quantitative"}}},
        {"mark": {"type": "rect", "color": "#cacaf4", "opacity": 0.55},
         "encoding": {"x": {"datum": -0.51}, "x2": {"datum": 126.3}, "y": {"datum": 987.4}, "y2": {"datum": 994.6}}},
        {"mark": {"type": "rect", "color": "#ff0000", "stroke": "#000000", "strokeWidth": 1},
         "encoding": {"x": {"datum": 0.34}, "x2": {"datum": 2.07}, "y": {"datum": 992.6}, "y2": {"datum": 988.8}}},
        {"mark": {"type": "text", "text": "Op:858-0, Hi:858-0, Lo:821-6, Cl:828-4", "align": "left", "baseline": "middle", "fontSize": 11, "color": "#000000"},
         "encoding": {"x": {"datum": 2.63}, "y": {"datum": 990.8}}},
        {"mark": {"type": "rule", "color": "#ff2a2a", "strokeWidth": 1},
         "encoding": {"x": {"datum": 29.6}, "x2": {"datum": 31.3}, "y": {"datum": 990.8}}},
        {"mark": {"type": "text", "text": "SMA (65): 856-5", "align": "left", "baseline": "middle", "fontSize": 11, "color": "#000000"},
         "encoding": {"x": {"datum": 31.9}, "y": {"datum": 990.8}}},
        {"mark": {"type": "rule", "color": "#1fbf1f", "strokeWidth": 1},
         "encoding": {"x": {"datum": 45.5}, "x2": {"datum": 47.2}, "y": {"datum": 990.8}}},
        {"mark": {"type": "text", "text": "SMA (15): 832-2", "align": "left", "baseline": "middle", "fontSize": 11, "color": "#000000"},
         "encoding": {"x": {"datum": 47.7}, "y": {"datum": 990.8}}},
        {"mark": {"type": "point", "shape": "diamond", "filled": true, "size": 28, "color": "#e00000", "opacity": 1},
         "encoding": {"x": {"datum": 61.8}, "y": {"datum": 990.8}}},
        {"mark": {"type": "text", "text": "TrendSpotter", "align": "left", "baseline": "middle", "fontSize": 11, "color": "#000000"},
         "encoding": {"x": {"datum": 63.4}, "y": {"datum": 990.8}}},
        {"mark": {"type": "rule", "color": "#2424ff", "strokeWidth": 1},
         "encoding": {"x": {"datum": 74.4}, "x2": {"datum": 76.5}, "y": {"datum": 990.8}}},
        {"mark": {"type": "text", "text": "SMA (5): 857-2", "align": "left", "baseline": "middle", "fontSize": 11, "color": "#000000"},
         "encoding": {"x": {"datum": 77.0}, "y": {"datum": 990.8}}},
        {"mark": {"type": "rule", "color": "#9c9cf2", "strokeWidth": 1},
         "encoding": {"x": {"datum": 89.6}, "x2": {"datum": 91.4}, "y": {"datum": 990.8}}},
        {"mark": {"type": "text", "text": "BBANDS (20, 2): 774-4 - 885-7", "align": "left", "baseline": "middle", "fontSize": 11, "color": "#000000"},
         "encoding": {"x": {"datum": 92.0}, "y": {"datum": 990.8}}},
        {"mark": {"type": "text", "text": "© Barchart.com", "align": "left", "baseline": "middle", "fontSize": 11, "color": "#000000"},
         "encoding": {"x": {"datum": 1.08}, "y": {"datum": 766.2}}},
        {"mark": {"type": "rect", "color": "#000000"},
         "encoding": {"x": {"datum": 126.74}, "x2": {"datum": 130.67}, "y": {"datum": 831.5}, "y2": {"datum": 826.6}}},
        {"mark": {"type": "text", "text": "828-4", "align": "left", "baseline": "middle", "fontSize": 11, "color": "#ffffff"},
         "encoding": {"x": {"datum": 126.95}, "y": {"datum": 829.0}}},
        {"mark": {"type": "rect", "fill": "transparent", "stroke": "#8a8a8a", "strokeWidth": 1.5},
         "encoding": {"x": {"datum": -0.51}, "x2": {"datum": 126.3}, "y": {"datum": 760}, "y2": {"datum": 994.6}}}
      ]
    },
    {
      "layer": [
        {"data": {"name": "candles"}, "mark": {"type": "bar", "size": 5.5},
         "encoding": {
           "x": {"field": "i", "type": "quantitative"},
           "y": {"field": "v", "type": "quantitative", "stack": null,
             "scale": {"domain": [0, 10000], "range": [584.3, 484.3], "nice": false, "zero": false},
             "axis": {"orient": "left", "values": [0, 2000, 4000, 6000, 8000, 10000], "tickCount": 60, "labelExpr": "(datum.value / 1000) + 'K'",
               "grid": false, "domain": false, "tickSize": 2, "tickColor": "#444444", "labelPadding": 0, "labelFontSize": 10.5,
               "labelColor": "#111111", "labelFlush": false, "labelOverlap": false, "title": null}},
           "color": {"field": "vd", "type": "nominal", "scale": {"domain": ["u", "d", "n"], "range": ["#006600", "#ff0000", "#000066"]}, "legend": null}
         }},
        {"mark": {"type": "rect", "color": "#cacaf4", "opacity": 0.55},
         "encoding": {"x": {"datum": -0.51}, "x2": {"datum": 126.3}, "y": {"datum": 8530}, "y2": {"datum": 10000}}},
        {"mark": {"type": "rect", "color": "#ff0000", "stroke": "#000000", "strokeWidth": 1},
         "encoding": {"x": {"datum": 0.22}, "x2": {"datum": 1.08}, "y": {"datum": 9660}, "y2": {"datum": 8930}}},
        {"mark": {"type": "text", "text": "Vol: 5,139", "align": "left", "baseline": "middle", "fontSize": 11, "color": "#000000"},
         "encoding": {"x": {"datum": 1.64}, "y": {"datum": 9300}}},
        {"mark": {"type": "rect", "color": "#9900ff", "stroke": "#000000", "strokeWidth": 1},
         "encoding": {"x": {"datum": 11.0}, "x2": {"datum": 11.86}, "y": {"datum": 9660}, "y2": {"datum": 8930}}},
        {"mark": {"type": "text", "text": "Open Interest: 27,369", "align": "left", "baseline": "middle", "fontSize": 11, "color": "#000000"},
         "encoding": {"x": {"datum": 12.46}, "y": {"datum": 9300}}},
        {"mark": {"type": "rect", "fill": "transparent", "stroke": "#8a8a8a", "strokeWidth": 1.5},
         "encoding": {"x": {"datum": -0.51}, "x2": {"datum": 126.3}, "y": {"datum": 0}, "y2": {"datum": 10000}}}
      ]
    },
    {
      "layer": [
        {"data": {"name": "oi"}, "mark": {"type": "line", "color": "#a64dff", "strokeWidth": 1.6},
         "encoding": {
           "x": {"field": "i", "type": "quantitative"},
           "y": {"field": "v", "type": "quantitative",
             "scale": {"domain": [0, 37500], "range": [584.3, 484.3], "nice": false, "zero": false},
             "axis": {"orient": "right", "values": [0, 10000, 20000, 30000], "tickCount": 60, "labelExpr": "(datum.value / 1000) + 'K'",
               "grid": true, "gridColor": "#d6d6d6", "domain": false, "tickSize": 3, "tickColor": "#444444", "labelPadding": 1,
               "labelFontSize": 11, "labelColor": "#111111", "labelFlush": false, "labelOverlap": false, "title": null}}
         }}
      ]
    },
    {
      "layer": [
        {"data": {"name": "std"}, "mark": {"type": "line", "color": "#1a1aa0", "strokeWidth": 1.2},
         "encoding": {
           "x": {"field": "i", "type": "quantitative"},
           "y": {"field": "v", "type": "quantitative",
             "scale": {"domain": [0, 124.6], "range": [687, 587.7], "nice": false, "zero": false},
             "axis": {"orient": "right", "values": [0, 50, 100], "tickCount": 60, "grid": true, "gridColor": "#d6d6d6", "domain": false,
               "tickSize": 3, "tickColor": "#444444", "labelPadding": 1, "labelFontSize": 11, "labelColor": "#111111",
               "labelFlush": false, "labelOverlap": false, "title": null}}
         }},
        {"data": {"name": "stk"}, "mark": {"type": "line", "color": "#ff2222", "strokeWidth": 1.2},
         "encoding": {"x": {"field": "i", "type": "quantitative"}, "y": {"field": "v", "type": "quantitative"}}},
        {"mark": {"type": "rect", "color": "#cacaf4", "opacity": 0.55},
         "encoding": {"x": {"datum": -0.51}, "x2": {"datum": 126.3}, "y": {"datum": 107.0}, "y2": {"datum": 124.6}}},
        {"mark": {"type": "rect", "color": "#ff0000", "stroke": "#000000", "strokeWidth": 1},
         "encoding": {"x": {"datum": 0.22}, "x2": {"datum": 1.08}, "y": {"datum": 118.8}, "y2": {"datum": 110.4}}},
        {"mark": {"type": "text", "text": "Slow Stochastic %K (14): 74.00", "align": "left", "baseline": "middle", "fontSize": 11, "color": "#000000"},
         "encoding": {"x": {"datum": 1.64}, "y": {"datum": 114.6}}},
        {"mark": {"type": "rect", "color": "#000099", "stroke": "#000000", "strokeWidth": 1},
         "encoding": {"x": {"datum": 24.4}, "x2": {"datum": 25.26}, "y": {"datum": 118.8}, "y2": {"datum": 110.4}}},
        {"mark": {"type": "text", "text": "%D (3): 84.96", "align": "left", "baseline": "middle", "fontSize": 11, "color": "#000000"},
         "encoding": {"x": {"datum": 25.8}, "y": {"datum": 114.6}}},
        {"mark": {"type": "rect", "fill": "transparent", "stroke": "#8a8a8a", "strokeWidth": 1.5},
         "encoding": {"x": {"datum": -0.51}, "x2": {"datum": 126.3}, "y": {"datum": 0}, "y2": {"datum": 124.6}}}
      ]
    },
    {
      "layer": [
        {"data": {"name": "tr"}, "mark": {"type": "line", "color": "#a0a0a0", "strokeWidth": 1},
         "encoding": {
           "x": {"field": "i", "type": "quantitative",
             "axis": {"orient": "bottom", "values": [7, 28, 48, 67, 90, 109], "tickCount": 60,
               "labelExpr": "datum.value == 7 ? 'Dec 22' : datum.value == 28 ? 'Jan 23' : datum.value == 48 ? 'Feb' : datum.value == 67 ? 'Mar' : datum.value == 90 ? 'Apr' : 'May'",
               "grid": true, "gridColor": "#d6d6d6", "ticks": false, "tickSize": 0, "domain": false, "labelFontSize": 11,
               "labelFontWeight": "bold", "labelColor": "#000000", "labelPadding": 4, "labelFlush": false, "labelOverlap": false, "title": null}},
           "y": {"field": "v", "type": "quantitative",
             "scale": {"domain": [0, 62.7], "range": [790.3, 690], "nice": false, "zero": false},
             "axis": {"orient": "right", "values": [0, 10, 20, 30, 40, 50], "tickCount": 60, "grid": true, "gridColor": "#d6d6d6", "domain": false,
               "tickSize": 3, "tickColor": "#444444", "labelPadding": 1, "labelFontSize": 11, "labelColor": "#111111",
               "labelFlush": false, "labelOverlap": false, "title": null}}
         }},
        {"data": {"name": "atr"}, "mark": {"type": "line", "color": "#e06666", "strokeWidth": 1.6},
         "encoding": {"x": {"field": "i", "type": "quantitative"}, "y": {"field": "v", "type": "quantitative"}}},
        {"mark": {"type": "rect", "color": "#cacaf4", "opacity": 0.55},
         "encoding": {"x": {"datum": -0.51}, "x2": {"datum": 126.3}, "y": {"datum": 53.3}, "y2": {"datum": 62.7}}},
        {"mark": {"type": "rect", "color": "#999999", "stroke": "#000000", "strokeWidth": 1},
         "encoding": {"x": {"datum": 0.22}, "x2": {"datum": 1.08}, "y": {"datum": 60.0}, "y2": {"datum": 55.4}}},
        {"mark": {"type": "text", "text": "True Range: 38-0", "align": "left", "baseline": "middle", "fontSize": 11, "color": "#000000"},
         "encoding": {"x": {"datum": 1.64}, "y": {"datum": 57.6}}},
        {"mark": {"type": "rect", "color": "#cc6666", "stroke": "#000000", "strokeWidth": 1},
         "encoding": {"x": {"datum": 15.46}, "x2": {"datum": 16.33}, "y": {"datum": 60.0}, "y2": {"datum": 55.4}}},
        {"mark": {"type": "text", "text": "Average True Range (14): 24-7", "align": "left", "baseline": "middle", "fontSize": 11, "color": "#000000"},
         "encoding": {"x": {"datum": 16.93}, "y": {"datum": 57.6}}},
        {"mark": {"type": "rect", "fill": "transparent", "stroke": "#8a8a8a", "strokeWidth": 1.5},
         "encoding": {"x": {"datum": -0.51}, "x2": {"datum": 126.3}, "y": {"datum": 0}, "y2": {"datum": 62.7}}}
      ]
    }
  ],
  "resolve": {"scale": {"y": "independent"}, "axis": {"y": "independent"}}
}
